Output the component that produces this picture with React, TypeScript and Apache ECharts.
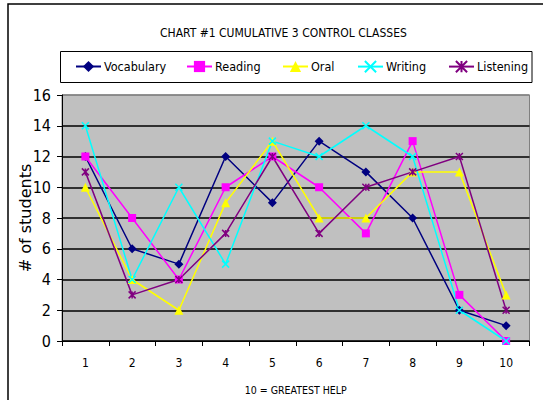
import React, { useEffect, useRef } from "react";
import * as echarts from "echarts";

const categories = ["1", "2", "3", "4", "5", "6", "7", "8", "9", "10"];
const vocabulary = [12, 6, 5, 12, 9, 13, 11, 8, 2, 1];
const reading = [12, 8, 4, 10, 12, 10, 7, 13, 3, 0];
const oral = [10, 4, 2, 9, 13, 8, 8, 11, 11, 3];
const writing = [14, 4, 10, 5, 13, 12, 14, 12, 2, 0];
const listening = [11, 3, 4, 7, 12, 7, 10, 11, 12, 2];
const seriesNames = ["Vocabulary", "Reading", "Oral", "Writing", "Listening"];

const NARROW = "'DejaVu Sans Condensed', 'DejaVu Sans', sans-serif";

export default function App() {
  const ref = useRef<HTMLDivElement>(null);
  useEffect(() => {
    if (!ref.current) return;
    const chart = echarts.init(ref.current, null, { renderer: "svg" });
    const mk = (name: string, data: number[], color: string, symbol: string, size: number, stroke: boolean) => ({
      name,
      type: "line",
      data,
      symbol,
      symbolSize: size,
      showSymbol: true,
      lineStyle: { color, width: 1.5 },
      itemStyle: stroke
        ? { color: "rgba(0,0,0,0)", borderColor: color, borderWidth: 1.5 }
        : { color, borderWidth: 0 },
      emphasis: { disabled: true },
    });
    const legendLefts = [75, 186, 282, 357, 448];
    chart.setOption({
      animation: false,
      title: {
        text: "CHART #1 CUMULATIVE 3 CONTROL CLASSES",
        left: 155,
        top: 22,
        textStyle: { fontFamily: NARROW, fontSize: 12, fontWeight: "normal", color: "#000" },
      },
      legend: seriesNames.map((n, i) => ({
        data: [n],
        left: legendLefts[i],
        top: 60,
        itemWidth: 25,
        itemHeight: 14,
        itemGap: 0,
        padding: 0,
        textStyle: { fontFamily: NARROW, fontSize: 12.5, color: "#000", padding: [0, 0, 0, -2] },
      })),
      grid: {
        left: 62,
        top: 95,
        right: 13.5,
        bottom: 54,
        show: true,
        backgroundColor: "#c0c0c0",
        borderColor: "#808080",
        borderWidth: 1,
      },
      xAxis: {
        type: "category",
        data: categories,
        boundaryGap: true,
        name: "10 = GREATEST HELP",
        nameLocation: "middle",
        nameGap: 43,
        nameMoveOverlap: false,
        nameTextStyle: { fontFamily: NARROW, fontSize: 10.5, color: "#000" },
        axisLine: { lineStyle: { color: "#000", width: 1 } },
        axisTick: { show: true, length: 5, lineStyle: { color: "#000" } },
        axisLabel: { fontFamily: NARROW, fontSize: 12, color: "#000", margin: 16 },
        splitLine: { show: false },
      },
      yAxis: {
        type: "value",
        min: 0,
        max: 16,
        interval: 2,
        name: "# of students",
        nameLocation: "middle",
        nameRotate: 90,
        nameGap: 29,
        nameMoveOverlap: false,
        nameTextStyle: { fontFamily: "'DejaVu Sans', sans-serif", fontSize: 16, color: "#000" },
        axisLine: { show: true, lineStyle: { color: "#000", width: 1 } },
        axisTick: { show: true, length: 5, lineStyle: { color: "#000" } },
        axisLabel: { fontFamily: NARROW, fontSize: 16, color: "#000", margin: 11 },
        splitLine: {
          show: true,
          lineStyle: {
            color: ["#000", "#000", "#000", "#000", "#000", "#000", "#000", "#000", "#808080"],
            width: 1.5,
          },
        },
      },
      graphic: [
        {
          type: "rect",
          shape: { x: 8, y: 4, width: 545, height: 410 },
          style: { fill: "none", stroke: "#000", lineWidth: 1.5 },
          silent: true,
        },
        {
          type: "rect",
          shape: { x: 60.5, y: 51.5, width: 471.5, height: 31 },
          style: { fill: "none", stroke: "#000", lineWidth: 1 },
          silent: true,
        },
      ],
      series: [
        mk("Vocabulary", vocabulary, "#000080", "diamond", 9, false),
        mk("Reading", reading, "#ff00ff", "rect", 8, false),
        mk("Oral", oral, "#ffff00", "triangle", 9, false),
        mk("Writing", writing, "#00ffff", "path://M0,0L10,10M10,0L0,10", 7, true),
        mk("Listening", listening, "#800080", "path://M0,0L10,10M10,0L0,10M5,0L5,10", 7, true),
      ],
    });
    return () => chart.dispose();
  }, []);
  return (
    <div
      ref={ref}
      style={{ position: "fixed", left: 0, top: 0, width: 543, height: 400, background: "#fff" }}
    />
  );
}
